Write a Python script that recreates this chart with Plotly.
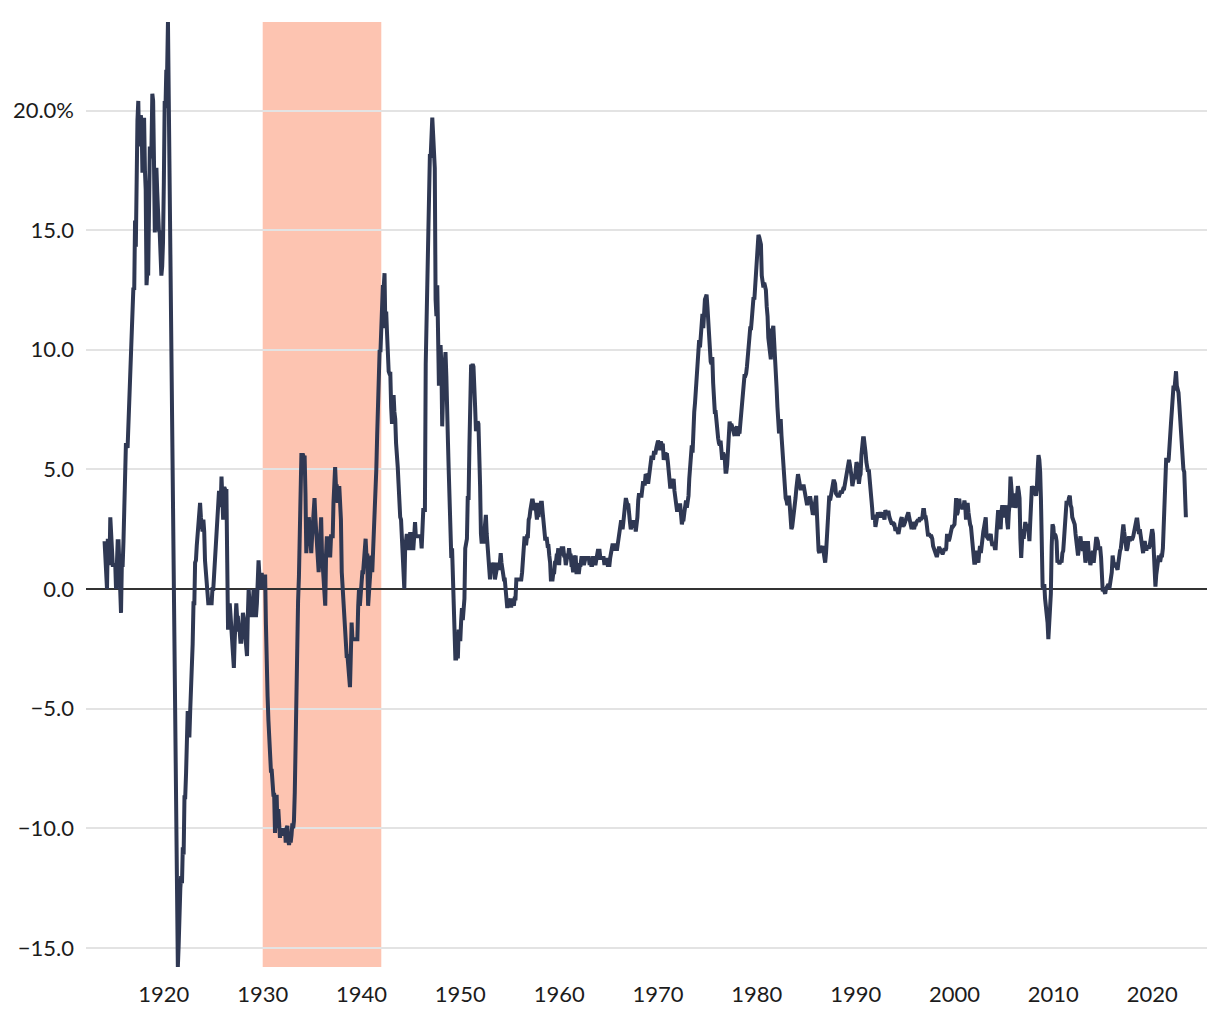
import pandas as pd
import plotly.graph_objects as go

# US CPI, year-over-year change (%), monthly from Jan 1914
yoy_1914_1945 = [
    2.0, 1.0, 1.0, 0.0, 2.1, 1.0, 1.0, 3.0, 2.0, 1.0, 1.0, 1.0,
    1.0, 1.0, 0.0, 2.0, 2.0, 2.0, 1.0, -1.0, -1.0, 1.0, 1.0, 2.0,
    3.0, 4.0, 6.1, 6.0, 5.9, 6.9, 6.9, 7.9, 9.9, 10.8, 11.7, 12.6,
    12.5, 15.4, 14.3, 18.9, 19.6, 20.4, 18.5, 19.3, 19.8, 19.5, 17.4, 18.1,
    19.7, 17.5, 16.7, 12.7, 13.3, 13.1, 18.0, 18.5, 18.0, 18.5, 20.7, 20.4,
    17.9, 14.9, 17.1, 17.6, 16.6, 15.0, 15.0, 14.9, 13.3, 13.1, 13.5, 14.5,
    17.0, 20.4, 20.1, 21.7, 21.6, 23.7, 20.5, 17.0, 13.5, 10.0, 6.5, 2.6,
    -1.6, -5.6, -7.0, -10.8, -14.1, -15.8, -14.9, -12.8, -12.5, -12.0, -12.3, -10.8,
    -11.1, -8.7, -8.7, -7.7, -5.6, -5.1, -5.2, -6.2, -5.1, -4.4, -3.2, -2.3,
    -0.6, -0.6, 1.1, 1.2, 1.8, 2.4, 3.0, 3.6, 3.6, 3.0, 2.4, 2.4,
    2.9, 2.4, 1.2, 0.6, 0.6, 0.0, -0.6, -0.6, -0.6, -0.6, -0.6, 0.0,
    0.0, 0.6, 1.2, 1.2, 1.8, 3.0, 3.5, 4.1, 3.5, 3.5, 4.7, 3.5,
    2.9, 4.2, 4.2, 4.1, 4.1, 1.1, -1.7, -1.1, -0.6, -1.1, -1.7, -2.2,
    -2.8, -3.3, -2.2, -0.6, -0.6, -1.2, -1.2, -1.7, -1.7, -2.2, -2.2, -1.7,
    -1.0, -1.2, -1.7, -1.7, -2.2, -2.8, -1.1, 0.0, -0.6, -1.1, -1.1, -1.1,
    0.0, 0.0, -1.1, -1.1, -1.1, -0.6, 1.2, 1.2, 0.6, 0.0, 0.6, 0.6,
    0.0, 0.6, 0.0, 0.6, -1.5, -4.0, -4.5, -5.5, -6.4, -7.0, -7.6, -7.6,
    -8.2, -8.6, -8.6, -10.2, -9.0, -8.6, -10.0, -9.2, -9.8, -10.4, -10.0, -10.2,
    -10.1, -10.2, -10.3, -10.0, -10.6, -10.0, -9.9, -10.5, -10.7, -10.4, -10.6, -10.3,
    -9.8, -10.0, -9.7, -8.5, -6.3, -3.5, -2.0, -0.5, 0.5, 2.5, 4.5, 5.6,
    5.6, 5.6, 5.5, 5.5, 4.0, 1.5, 2.2, 2.2, 3.0, 2.2, 1.5, 1.5,
    2.2, 3.0, 3.0, 3.8, 3.0, 2.2, 2.2, 0.7, 0.7, 1.5, 2.2, 3.0,
    1.5, 0.7, 0.7, -0.7, -0.7, 1.5, 2.2, 1.4, 2.2, 1.4, 1.4, 2.2,
    2.2, 2.2, 3.6, 4.3, 5.1, 4.3, 4.3, 3.6, 4.3, 4.3, 3.6, 2.9,
    0.7, 0.0, -0.7, -0.7, -2.1, -2.1, -2.8, -2.8, -3.4, -4.1, -4.1, -2.8,
    -1.4, -2.1, -2.1, -2.1, -2.1, -2.1, -2.1, -2.1, -0.7, 0.0, -0.7, 0.0,
    0.0, 0.7, 0.7, 1.4, 1.4, 2.1, 1.4, 1.4, -0.7, 0.0, 0.0, 0.7,
    1.4, 0.7, 1.4, 2.2, 2.9, 4.3, 5.0, 6.4, 7.8, 9.3, 10.0, 9.9,
    11.3, 12.1, 12.7, 12.6, 13.2, 10.9, 11.6, 10.7, 9.2, 9.1, 9.0, 9.0,
    7.6, 6.9, 7.6, 8.1, 7.4, 7.1, 6.1, 5.1, 5.1, 4.4, 3.2, 3.0,
    2.9, 2.3, 1.2, 0.6, 0.0, 1.7, 2.3, 2.3, 1.7, 1.7, 1.7, 2.3,
    2.3, 1.7, 1.7, 1.7, 2.2, 2.8, 2.2, 2.2, 2.2, 2.2, 2.2, 2.2,
]
yoy_1946_1979 = [
    2.2, 1.7, 2.8, 3.3, 3.3, 3.3, 9.4, 11.6, 12.7, 14.9, 17.7, 18.1,
    18.1, 18.8, 19.7, 19.0, 18.4, 17.6, 12.1, 11.4, 12.7, 10.6, 8.5, 8.8,
    10.2, 9.3, 6.8, 8.7, 9.3, 9.4, 9.9, 8.9, 6.5, 6.1, 4.8, 3.0,
    1.3, 1.3, 1.7, 0.4, -0.4, -0.8, -2.9, -2.9, -2.5, -2.9, -1.7, -2.1,
    -2.1, -1.3, -0.8, -1.3, -0.4, -0.4, 1.7, 2.1, 2.1, 3.8, 3.8, 5.9,
    8.1, 9.3, 9.3, 9.4, 9.3, 8.7, 7.6, 6.6, 6.9, 7.0, 6.9, 6.0,
    4.3, 2.3, 1.9, 2.3, 1.9, 2.3, 3.1, 3.1, 2.3, 1.9, 1.1, 0.8,
    0.4, 0.8, 1.1, 0.8, 1.1, 1.1, 0.4, 0.8, 0.8, 1.1, 0.8, 0.8,
    1.1, 1.5, 1.1, 0.8, 0.8, 0.4, 0.4, 0.0, -0.4, -0.8, -0.4, -0.7,
    -0.7, -0.7, -0.7, -0.4, -0.7, -0.7, -0.4, -0.4, 0.4, 0.4, 0.4, 0.4,
    0.4, 0.4, 0.4, 0.7, 1.1, 1.9, 2.2, 1.9, 1.9, 2.2, 2.2, 2.9,
    3.0, 3.3, 3.7, 3.7, 3.7, 3.3, 3.3, 3.6, 3.3, 2.9, 3.6, 3.0,
    3.6, 3.2, 3.6, 3.6, 3.2, 2.8, 2.5, 2.1, 2.1, 2.1, 1.8, 1.8,
    1.4, 1.1, 0.4, 0.4, 0.4, 0.7, 0.7, 1.1, 1.1, 1.4, 1.4, 1.7,
    1.0, 1.7, 1.4, 1.7, 1.7, 1.7, 1.4, 1.4, 1.0, 1.4, 1.4, 1.4,
    1.7, 1.4, 1.4, 1.0, 1.0, 0.7, 1.4, 1.0, 1.4, 0.7, 0.7, 0.7,
    0.7, 1.0, 1.0, 1.3, 1.3, 1.3, 1.0, 1.3, 1.3, 1.3, 1.3, 1.3,
    1.3, 1.0, 1.3, 1.0, 1.0, 1.3, 1.3, 1.3, 1.0, 1.3, 1.3, 1.6,
    1.6, 1.6, 1.3, 1.3, 1.3, 1.3, 1.3, 1.0, 1.3, 1.0, 1.3, 1.0,
    1.0, 1.0, 1.3, 1.6, 1.6, 1.9, 1.6, 1.9, 1.6, 1.9, 1.6, 1.9,
    1.9, 2.5, 2.5, 2.8, 2.8, 2.5, 2.8, 3.5, 3.5, 3.8, 3.5, 3.5,
    3.5, 2.8, 2.8, 2.5, 2.8, 2.8, 2.8, 2.8, 2.8, 2.4, 2.7, 3.0,
    3.7, 4.0, 3.9, 3.9, 3.9, 4.2, 4.5, 4.4, 4.4, 4.8, 4.7, 4.7,
    4.4, 4.7, 5.2, 5.5, 5.5, 5.5, 5.4, 5.7, 5.7, 5.7, 5.9, 6.2,
    6.2, 6.1, 5.8, 6.1, 6.1, 6.0, 6.0, 5.4, 5.7, 5.7, 5.6, 5.6,
    5.3, 5.0, 4.7, 4.2, 4.4, 4.6, 4.4, 4.6, 4.1, 3.8, 3.3, 3.3,
    3.3, 3.5, 3.5, 3.5, 3.2, 2.7, 2.9, 2.9, 3.2, 3.4, 3.7, 3.4,
    3.6, 3.9, 4.6, 5.1, 5.5, 6.0, 5.7, 7.4, 7.4, 7.8, 8.3, 8.7,
    9.4, 10.0, 10.4, 10.1, 10.7, 10.9, 11.5, 10.9, 11.9, 12.1, 12.2, 12.3,
    11.8, 11.2, 10.3, 10.2, 9.5, 9.4, 9.7, 8.6, 7.9, 7.4, 7.4, 6.9,
    6.7, 6.3, 6.1, 6.0, 6.2, 5.9, 5.4, 5.7, 5.5, 5.5, 4.9, 4.9,
    5.2, 6.0, 6.4, 7.0, 6.7, 6.9, 6.8, 6.6, 6.6, 6.4, 6.7, 6.7,
    6.8, 6.4, 6.6, 6.5, 6.9, 7.4, 7.7, 7.8, 8.3, 8.9, 8.9, 9.0,
    9.3, 9.9, 10.1, 10.5, 10.9, 10.9, 11.3, 11.8, 12.2, 12.1, 12.6, 13.3,
]
yoy_1980_2023 = [
    13.9, 14.2, 14.8, 14.7, 14.4, 14.4, 13.1, 12.9, 12.6, 12.8, 12.6, 12.5,
    11.8, 11.4, 10.5, 10.0, 9.8, 9.6, 10.8, 10.8, 11.0, 10.1, 9.6, 8.9,
    8.4, 7.6, 6.8, 6.5, 6.7, 7.1, 6.4, 5.9, 5.0, 5.1, 4.6, 3.8,
    3.7, 3.5, 3.6, 3.9, 3.5, 2.6, 2.5, 2.6, 2.9, 2.9, 3.3, 3.8,
    4.2, 4.6, 4.8, 4.6, 4.2, 4.2, 4.2, 4.3, 4.3, 4.3, 4.1, 3.9,
    3.5, 3.5, 3.7, 3.7, 3.8, 3.8, 3.6, 3.3, 3.1, 3.2, 3.5, 3.8,
    3.9, 3.1, 2.2, 1.6, 1.5, 1.8, 1.6, 1.6, 1.8, 1.5, 1.3, 1.1,
    1.5, 2.1, 3.0, 3.8, 3.9, 3.7, 3.9, 4.3, 4.4, 4.5, 4.5, 4.4,
    4.0, 3.9, 3.9, 3.9, 3.9, 4.0, 4.1, 4.0, 4.2, 4.2, 4.2, 4.4,
    4.7, 4.8, 5.0, 5.1, 5.4, 5.2, 5.0, 4.7, 4.3, 4.5, 4.7, 4.6,
    5.2, 5.3, 5.2, 4.7, 4.4, 4.7, 4.8, 5.6, 6.2, 6.3, 6.3, 6.1,
    5.7, 5.3, 4.9, 4.9, 5.0, 4.7, 4.4, 3.8, 3.4, 2.9, 3.0, 3.1,
    2.6, 2.8, 3.2, 3.2, 3.0, 3.1, 3.2, 3.1, 3.0, 3.2, 3.0, 2.9,
    3.3, 3.2, 3.1, 3.2, 3.2, 3.0, 2.8, 2.8, 2.7, 2.8, 2.7, 2.7,
    2.5, 2.5, 2.5, 2.4, 2.3, 2.5, 2.8, 2.9, 3.0, 2.6, 2.7, 2.7,
    2.8, 2.9, 2.9, 3.1, 3.2, 3.0, 2.8, 2.6, 2.5, 2.8, 2.6, 2.5,
    2.7, 2.7, 2.8, 2.9, 2.9, 2.8, 3.0, 2.9, 3.0, 3.0, 3.3, 3.3,
    3.0, 3.0, 2.8, 2.5, 2.2, 2.3, 2.2, 2.2, 2.2, 2.1, 1.8, 1.7,
    1.6, 1.4, 1.4, 1.4, 1.7, 1.7, 1.7, 1.6, 1.5, 1.5, 1.5, 1.6,
    1.7, 1.6, 1.7, 2.3, 2.1, 2.0, 2.1, 2.3, 2.6, 2.6, 2.6, 2.7,
    2.7, 3.2, 3.8, 3.1, 3.2, 3.7, 3.7, 3.4, 3.5, 3.4, 3.4, 3.4,
    3.7, 3.5, 2.9, 3.3, 3.6, 3.2, 2.7, 2.7, 2.6, 2.1, 1.9, 1.6,
    1.1, 1.1, 1.5, 1.6, 1.2, 1.1, 1.5, 1.8, 1.5, 2.0, 2.2, 2.4,
    2.6, 3.0, 3.0, 2.2, 2.1, 2.1, 2.1, 2.2, 2.3, 2.0, 1.8, 1.9,
    1.9, 1.7, 1.7, 2.3, 3.1, 3.3, 3.0, 2.7, 2.5, 3.2, 3.5, 3.3,
    3.0, 3.0, 3.1, 3.5, 2.8, 2.5, 3.2, 3.6, 4.7, 4.3, 3.5, 3.4,
    4.0, 3.6, 3.4, 3.5, 4.2, 4.3, 4.1, 3.8, 2.1, 1.3, 2.0, 2.5,
    2.1, 2.4, 2.8, 2.6, 2.7, 2.7, 2.4, 2.0, 2.8, 3.5, 4.3, 4.1,
    4.3, 4.0, 4.0, 3.9, 4.2, 5.0, 5.6, 5.4, 4.9, 3.7, 1.1, 0.1,
    0.0, 0.2, -0.4, -0.7, -1.3, -1.4, -2.1, -1.5, -1.3, -0.2, 1.8, 2.7,
    2.6, 2.1, 2.3, 2.2, 2.0, 1.1, 1.2, 1.1, 1.1, 1.2, 1.1, 1.5,
    1.6, 2.1, 2.7, 3.2, 3.6, 3.6, 3.6, 3.8, 3.9, 3.5, 3.4, 3.0,
    2.9, 2.9, 2.7, 2.3, 1.7, 1.7, 1.4, 1.7, 2.0, 2.2, 1.8, 1.7,
    1.6, 2.0, 1.5, 1.1, 1.4, 1.8, 2.0, 1.5, 1.2, 1.0, 1.2, 1.5,
    1.6, 1.1, 1.5, 2.0, 2.1, 2.1, 2.0, 1.7, 1.7, 1.7, 1.3, 0.8,
    -0.1, 0.0, -0.1, -0.2, 0.0, 0.1, 0.2, 0.2, 0.0, 0.2, 0.5, 0.7,
    1.4, 1.0, 0.9, 1.1, 1.0, 1.0, 0.8, 1.1, 1.5, 1.6, 1.7, 2.1,
    2.5, 2.7, 2.4, 2.2, 1.9, 1.6, 1.7, 1.9, 2.2, 2.0, 2.2, 2.1,
    2.1, 2.2, 2.4, 2.5, 2.8, 2.9, 2.9, 2.7, 2.3, 2.5, 2.2, 1.9,
    1.6, 1.5, 1.9, 2.0, 1.8, 1.6, 1.8, 1.7, 1.7, 1.8, 2.1, 2.3,
    2.5, 2.3, 1.5, 0.3, 0.1, 0.6, 1.0, 1.3, 1.4, 1.2, 1.2, 1.4,
    1.4, 1.7, 2.6, 4.2, 5.0, 5.4, 5.4, 5.3, 5.4, 6.2, 6.8, 7.0,
    7.5, 7.9, 8.5, 8.3, 8.6, 9.1, 8.5, 8.3, 8.2, 7.7, 7.1, 6.5,
    6.4, 6.0, 5.0, 4.9, 4.0, 3.0,
]

yoy = yoy_1914_1945 + yoy_1946_1979 + yoy_1980_2023
dates = pd.date_range("1914-01-01", periods=len(yoy), freq="MS")

shade_start, shade_end = "1930-01-01", "1942-01-01"

y_ticks = [-15, -10, -5, 0, 5, 10, 15, 20]
y_labels = ["\u221215.0", "\u221210.0", "\u22125.0", "0.0", "5.0", "10.0", "15.0", "20.0%"]
x_ticks = [str(y) + "-01-01" for y in range(1920, 2030, 10)]
x_labels = [str(y) for y in range(1920, 2030, 10)]

fig = go.Figure()

fig.add_trace(go.Scatter(
    x=dates,
    y=yoy,
    mode="lines",
    line=dict(color="#2f3853", width=4),
    hoverinfo="x+y",
    showlegend=False,
))

# Great Depression / war period
fig.add_shape(
    type="rect",
    xref="x", yref="paper",
    x0=shade_start, x1=shade_end, y0=0, y1=1,
    fillcolor="#fdc4b1", line=dict(width=0),
    layer="below",
)

fig.update_layout(
    width=1204,
    height=1004,
    paper_bgcolor="white",
    plot_bgcolor="white",
    margin=dict(l=76, r=5, t=14, b=44),
    font=dict(family="Source Sans Pro, Lato, sans-serif", size=22, color="#1c1c1c"),
    xaxis=dict(
        type="date",
        range=["1912-02-15", "2025-07-20"],
        tickvals=x_ticks,
        ticktext=x_labels,
        showgrid=False,
        zeroline=False,
        showline=False,
        ticks="",
        ticklabelstandoff=12,
    ),
    yaxis=dict(
        range=[-15.8, 23.7],
        tickvals=y_ticks,
        ticktext=y_labels,
        showgrid=True,
        gridcolor="#e3e3e3",
        gridwidth=1.5,
        zeroline=True,
        zerolinecolor="#333333",
        zerolinewidth=1.5,
        ticks="",
        ticklabelstandoff=11,
    ),
)

fig.write_html("out.html")
